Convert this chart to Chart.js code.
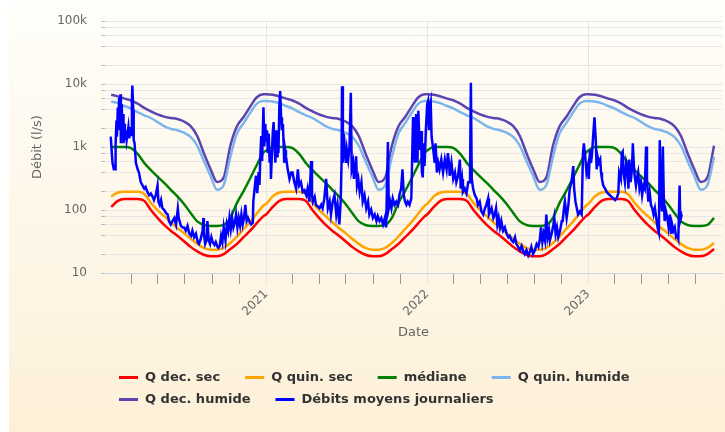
<!DOCTYPE html>
<html>
<head>
<meta charset="utf-8">
<script src="https://cdn.jsdelivr.net/npm/chart.js@4.4.1/dist/chart.umd.min.js"></script>
<style>
  html, body { margin: 0; padding: 0; background: #fff; }
  #wrap {
    position: absolute; left: 9px; top: 0; width: 716px; height: 432px;
    background: linear-gradient(to bottom, #fffefa 0%, #fdf0d8 100%);
  }
</style>
</head>
<body>
<div id="wrap"><canvas id="flowChart"></canvas></div>
<script>
// day numbers are counted from 2020-01-01
const START = Date.UTC(2020, 0, 1);
const dayOf = (y, m, d) => Math.round((Date.UTC(y, m - 1, d) - START) / 86400000);

// x ticks every two months, labels only on January
const xTickMonths = ['2020-03', '2020-05', '2020-07', '2020-09', '2020-11',
  '2021-01', '2021-03', '2021-05', '2021-07', '2021-09', '2021-11',
  '2022-01', '2022-03', '2022-05', '2022-07', '2022-09', '2022-11',
  '2023-01', '2023-03', '2023-05', '2023-07', '2023-09'];

// y grid lines and labels (log scale)
const yGridValues = [10, 20, 40, 60, 80, 100, 200, 400, 600, 800, 1000, 2000, 4000, 6000, 8000,
  10000, 20000, 40000, 60000, 80000, 100000];
const yLabelValues = [10, 100, 1000, 10000, 100000];
const yLabelTexts = ['10', '100', '1k', '10k', '100k'];

// yearly statistics, by day of year
const statYears = [2020, 2021, 2022, 2023];
const statFirstDay = 14;
const statLastDay = 1388;
const statDoy = [0, 15, 30, 45, 60, 75, 90, 105, 120, 135, 150, 165, 180, 195, 210, 225, 240, 255, 270, 285, 300, 315, 330, 345, 360];
const qDecSec = [85, 112, 140, 150, 150, 150, 140, 100, 75, 58, 47, 39, 32, 26, 22, 19.5, 18.5, 18.5, 20, 24, 29, 37, 47, 62, 80];
const qQuinSec = [125, 165, 190, 195, 195, 195, 180, 130, 100, 80, 64, 52, 43, 35, 29, 25, 23.5, 23.5, 25, 30, 38, 50, 65, 88, 118];
const mediane = [880, 1000, 1000, 1000, 960, 780, 560, 430, 340, 270, 210, 165, 125, 90, 66, 58, 56, 56, 58, 75, 130, 200, 320, 520, 820];
const qQuinHumide = [5400, 5300, 5000, 4500, 4100, 3600, 3200, 2900, 2500, 2150, 1950, 1850, 1700, 1450, 1050, 600, 350, 210, 250, 700, 1650, 2400, 3500, 4900, 5400];
const qDecHumide = [6900, 6800, 6400, 5900, 5500, 4900, 4200, 3700, 3300, 3050, 2900, 2800, 2550, 2150, 1500, 800, 450, 280, 330, 1050, 2150, 3000, 4400, 6200, 6900];

// daily mean flows (l/s)
const flowDays = [
  14, 16, 18, 21, 24, 25, 27, 28, 30, 31, 33, 34, 36, 37, 39, 40, 42, 43, 45, 46, 48, 50, 52, 54, 56, 58, 60, 62, 63, 65, 66, 68,
  71, 75, 78, 82, 86, 90, 93, 97, 101, 105, 109, 112, 116, 120, 122, 125, 128, 131, 135, 139, 143, 146, 150, 154, 158, 162, 166, 168,
  173, 177, 180, 184, 188, 192, 196, 199, 203, 207, 211, 214, 218, 222, 224, 225, 228, 231, 233, 236, 239, 242, 245, 249, 252, 256, 258, 261,
  264, 267, 270, 274, 277, 280, 283, 286, 289, 292, 295, 298, 301, 304, 307, 310, 313, 316, 319, 322, 325, 328, 332, 336, 337, 340, 343, 346,
  349, 351, 353, 355, 357, 360, 362, 364,
  366, 368, 370, 372, 374, 376, 377, 379, 381, 383, 385, 387, 389, 391, 392, 394, 396, 398, 400, 402, 404, 406, 407, 409, 411, 413, 415,
  419, 423, 426, 430, 434, 438, 441, 445, 449, 453, 457, 460, 464, 468, 470, 472, 476, 479, 483, 487, 491, 494, 498, 502, 506, 510, 513,
  517, 521, 525, 528, 532, 535, 537, 538, 540, 542, 544, 547, 549, 552, 555, 558, 560, 563, 565, 567, 570, 572, 575, 578, 582, 585, 589,
  593, 597, 600, 604, 608, 612, 616, 619, 623, 627, 631, 635, 638, 642, 644, 647, 650, 653, 657, 661, 665, 668, 672, 675, 678, 681, 684,
  687, 691, 695, 699, 700, 703, 706, 709, 711, 714, 717, 719, 721, 723, 725, 728,
  731, 733, 735, 737, 739, 741, 744, 748, 750, 753, 756, 759, 763, 767, 771, 775, 778, 781, 782, 786, 790, 794, 797, 801, 805, 807, 810,
  812, 816, 820, 824, 828, 830, 832, 835, 839, 843, 846, 850, 854, 858, 862, 865, 869, 871, 874, 877, 881, 884, 887, 890, 893, 896, 899,
  903, 907, 911, 915, 918, 922, 926, 930, 933, 937, 941, 945, 949, 952, 956, 960, 964, 967, 971, 975, 979, 983, 986, 989, 992, 995, 998,
  1001, 1004, 1007, 1009, 1013, 1017, 1019, 1022, 1025, 1028, 1032, 1036, 1038, 1041, 1043, 1047, 1051, 1054, 1058, 1062, 1064, 1067,
  1070, 1073, 1077, 1081, 1084, 1086, 1089, 1092,
  1095, 1097, 1100, 1102, 1104, 1108, 1110, 1113, 1115, 1117, 1120, 1123, 1125, 1127, 1130, 1134, 1138, 1141, 1145, 1149, 1153, 1157,
  1160, 1164, 1166, 1170, 1172, 1174, 1176, 1179, 1182, 1185, 1187, 1189, 1192, 1195, 1197, 1199, 1201, 1204, 1206, 1209, 1212, 1215,
  1218, 1221, 1224, 1227, 1229, 1232, 1235, 1238, 1241, 1244, 1247, 1250, 1253, 1256, 1258, 1260, 1263, 1265, 1267, 1269, 1272, 1275,
  1278, 1281, 1284, 1286, 1289, 1292, 1295, 1298, 1300, 1303, 1304, 1306, 1308
];
const flowValues = [
  1470, 905, 563, 444, 444, 1100, 2640, 1460, 4270, 1850, 6100, 2340, 6900, 1150, 4800, 1850, 3350, 1150, 2340, 1290, 1850, 1290, 1640, 2080, 1380, 2080, 1550, 5400, 9500, 3780, 1290, 1150,
  563, 444, 395, 277, 246, 219, 232, 194, 172, 183, 162, 144, 172, 246, 136, 121, 144, 107, 101, 90, 85, 67, 59, 67, 75, 59, 105, 75,
  56, 53, 53, 47, 56, 42, 39, 47, 37, 42, 31, 29, 35, 47, 75, 42, 29, 33, 67, 33, 29, 37, 31, 28, 31, 26, 25, 27,
  39, 31, 53, 33, 59, 47, 75, 50, 75, 53, 63, 85, 53, 75, 57, 85, 59, 75, 121, 67, 75, 67, 59, 63, 136, 219, 351, 185,
  400, 250, 700, 1500, 600, 4300, 1020, 2340,
  1290, 1850, 805, 1640, 563, 900, 312, 714, 1640, 2490, 1150, 563, 1850, 714, 1850, 805, 4270, 7800, 2980, 1850, 2340, 1020, 563, 905, 714, 563, 444,
  312, 395, 395, 277, 219, 444, 246, 277, 194, 206, 172, 219, 136, 600, 172, 136, 162, 121, 114, 107, 121, 107, 153, 312, 107, 136, 85,
  136, 172, 85, 121, 59, 136, 563, 9300, 563, 1640, 1020, 563, 905, 634, 1020, 7300, 444, 563, 312, 395, 714, 246, 312, 194, 277, 136, 172,
  107, 136, 85, 101, 75, 85, 67, 80, 67, 75, 59, 75, 53, 1200, 107, 136, 107, 153, 121, 136, 121, 172, 219, 444, 172, 136, 121,
  136, 121, 153, 3000, 1850, 563, 3350, 563, 3780, 900, 1800, 400, 330, 1150, 500, 1850,
  4800, 5400, 1850, 4270, 5100, 1460, 1020, 563, 1150, 395, 563, 444, 634, 395, 634, 444, 805, 500, 351, 563, 312, 395, 277, 351, 634, 219, 312,
  194, 219, 183, 277, 277, 10500, 312, 219, 172, 153, 121, 136, 95, 85, 107, 121, 153, 85, 95, 107, 75, 85, 107, 59, 75, 53, 67,
  47, 53, 42, 37, 39, 33, 31, 37, 29, 26, 23, 27, 22, 20, 23, 19, 22, 26, 20, 23, 29, 26, 33, 53, 31, 42, 33,
  85, 37, 47, 33, 42, 59, 75, 42, 53, 37, 47, 67, 67, 107, 136, 75, 121, 219, 277, 500, 219, 136,
  107, 85, 95, 85, 805, 1150, 714, 395,
  500, 312, 905, 563, 714, 1850, 2980, 1290, 444, 714, 563, 634, 395, 312, 246, 219, 194, 183, 172, 162, 153, 144,
  153, 183, 395, 312, 805, 851, 395, 277, 563, 444, 219, 634, 277, 444, 1150, 563, 351, 246, 312, 395, 219, 277,
  172, 246, 219, 1020, 312, 136, 194, 121, 107, 85, 107, 75, 53, 44, 1290, 172, 95, 1020, 172, 67, 95, 75,
  53, 85, 42, 59, 47, 53, 37, 39, 35, 246, 95, 75, 85
];

document.addEventListener('DOMContentLoaded', function () {
  const xTickDays = xTickMonths.map(s => {
    const [y, m] = s.split('-').map(Number);
    return dayOf(y, m, 1);
  });
  const yearLabels = {};
  xTickMonths.forEach((s, i) => {
    if (s.endsWith('-01')) yearLabels[xTickDays[i]] = s.slice(0, 4);
  });
  const isYear = ctx => ctx.tick && yearLabels[ctx.tick.value] !== undefined;

  function statPoints(values) {
    const pts = [];
    statYears.forEach(year => {
      const offset = dayOf(year, 1, 1);
      statDoy.forEach((doy, i) => {
        const day = offset + doy;
        if (day >= statFirstDay && day <= statLastDay) pts.push({ x: day, y: values[i] });
      });
    });
    return pts;
  }

  function statSet(label, values, color) {
    return {
      label: label,
      data: statPoints(values),
      borderColor: color,
      backgroundColor: color,
      borderWidth: 2.5,
      cubicInterpolationMode: 'monotone',
      order: 1
    };
  }

  const datasets = [
    statSet('Q dec. sec', qDecSec, '#ff0000'),
    statSet('Q quin. sec', qQuinSec, '#ffa500'),
    statSet('médiane', mediane, '#008000'),
    statSet('Q quin. humide', qQuinHumide, '#7cb5ec'),
    statSet('Q dec. humide', qDecHumide, '#5b44b2'),
    {
      label: 'Débits moyens journaliers',
      data: flowDays.map((d, i) => ({ x: d, y: flowValues[i] })),
      borderColor: '#0000ff',
      backgroundColor: '#0000ff',
      borderWidth: 2.5,
      tension: 0,
      order: 0
    }
  ];

  // legend drawn in rows that all start at the same left edge
  const rowLegend = {
    id: 'rowLegend',
    afterDraw(chart) {
      const { ctx, chartArea } = chart;
      ctx.save();
      ctx.font = 'bold 13px "DejaVu Sans", sans-serif';
      ctx.textBaseline = 'middle';
      const left = chartArea.left + 14;
      let x = left;
      let y = 377.5;
      chart.data.datasets.forEach(ds => {
        const w = 27 + ctx.measureText(ds.label).width;
        if (x > left && x + w > chartArea.right) {
          x = left;
          y += 22;
        }
        ctx.fillStyle = ds.borderColor;
        ctx.fillRect(x, y - 1.5, 19, 3);
        ctx.fillStyle = '#333333';
        ctx.fillText(ds.label, x + 26, y + 0.5);
        x += w + 24;
      });
      ctx.restore();
    }
  };

  Chart.defaults.font.family = '"DejaVu Sans", sans-serif';

  new Chart(document.getElementById('flowChart'), {
    type: 'line',
    data: { datasets: datasets },
    plugins: [rowLegend],
    options: {
      animation: false,
      responsive: true,
      maintainAspectRatio: false,
      layout: { padding: { top: 15, right: 3, bottom: 92, left: 0 } },
      elements: { point: { radius: 0 } },
      plugins: { legend: { display: false }, tooltip: { enabled: false } },
      scales: {
        x: {
          type: 'linear',
          min: 1,
          max: 1399,
          afterBuildTicks: s => { s.ticks = xTickDays.map(v => ({ value: v })); },
          afterFit: s => { s.height = 67; },
          border: { color: '#ccd6eb' },
          grid: {
            color: c => isYear(c) ? '#e6e6e6' : 'rgba(0,0,0,0)',
            tickColor: c => isYear(c) ? '#e6e6e6' : '#999999',
            tickLength: 11
          },
          ticks: {
            autoSkip: false,
            minRotation: 45,
            maxRotation: 45,
            padding: 3,
            color: '#666666',
            font: { size: 12 },
            callback: v => yearLabels[v] || ''
          },
          title: { display: true, text: 'Date', color: '#666666', font: { size: 13 }, padding: { top: 4, bottom: 0 } }
        },
        y: {
          type: 'logarithmic',
          min: 10,
          max: 100000,
          afterBuildTicks: s => { s.ticks = yGridValues.map(v => ({ value: v })); },
          afterFit: s => { s.width = 96; },
          border: { display: false },
          grid: { color: '#e6e6e6', tickColor: '#bbbbbb', tickLength: 4 },
          ticks: {
            autoSkip: false,
            padding: 14,
            color: '#666666',
            font: { size: 12 },
            callback: v => {
              const i = yLabelValues.indexOf(v);
              return i >= 0 ? yLabelTexts[i] : '';
            }
          },
          title: { display: true, text: 'Débit (l/s)', color: '#666666', font: { size: 13 }, padding: { top: 21, bottom: 0 } }
        }
      }
    }
  });
});
</script>
</body>
</html>
